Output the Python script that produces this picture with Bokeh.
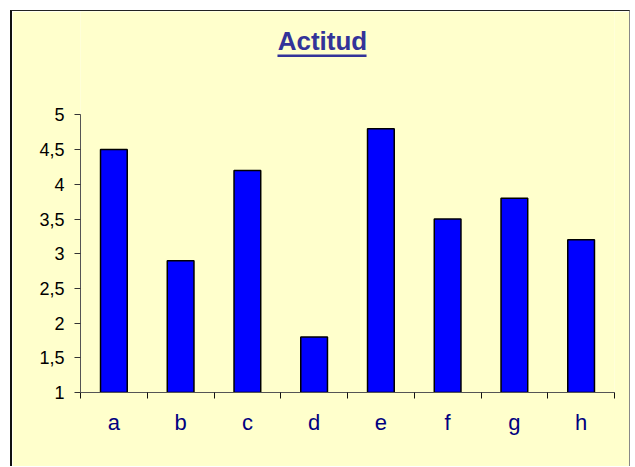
from bokeh.plotting import figure
from bokeh.models import (Range1d, FixedTicker, LinearAxis, Label, BoxAnnotation)
from bokeh.embed import file_html
from bokeh.resources import INLINE

categories = ["a", "b", "c", "d", "e", "f", "g", "h"]
values = [4.5, 2.9, 4.2, 1.8, 4.8, 3.5, 3.8, 3.2]
y_ticks = [1, 1.5, 2, 2.5, 3, 3.5, 4, 4.5, 5]
y_tick_labels = ["1", "1,5", "2", "2,5", "3", "3,5", "4", "4,5", "5"]
title_text = "Actitud"

BG = "#FFFFCC"
W, H = 620, 456
Y_MIN, Y_MAX = 1, 5

# the frame extends above the value axis to hold the title
p = figure(width=W, height=H, output_backend="svg", toolbar_location=None,
           x_range=Range1d(0, len(categories)), y_range=Range1d(Y_MIN, 6.49),
           min_border_left=68, min_border_right=18, min_border_top=0,
           min_border_bottom=75, background_fill_color=BG,
           border_fill_color=BG, outline_line_color=None)
p.margin = (10, 0, 0, 10)
p.styles = {"border-top": "1px solid #222222", "border-left": "2px solid #111111",
            "border-right": "1px solid #888888"}

p.xgrid.visible = False
p.ygrid.visible = False

centers = [i + 0.5 for i in range(len(categories))]
p.vbar(x=centers, top=values, bottom=Y_MIN, width=0.4, fill_color="#0000FF",
       line_color="#000000", line_width=1.5)

# y axis
ya = p.yaxis[0]
ya.bounds = (Y_MIN, Y_MAX)
ya.ticker = FixedTicker(ticks=y_ticks, minor_ticks=[])
ya.major_label_overrides = {t: l for t, l in zip(y_ticks, y_tick_labels)}
ya.major_tick_in = 0
ya.major_tick_out = 6
ya.minor_tick_line_color = None
ya.axis_line_color = "#555555"
ya.major_tick_line_color = "#333333"
ya.major_label_text_font = "Liberation Sans"
ya.major_label_text_font_size = "18px"
ya.major_label_text_color = "#000000"
ya.major_label_standoff = 10

# x axis: ticks at category edges
edges = list(range(len(categories) + 1))
xa = p.xaxis[0]
xa.ticker = FixedTicker(ticks=edges, minor_ticks=[])
xa.major_label_overrides = {e: "" for e in edges}
xa.major_label_standoff = 0
xa.major_tick_in = 0
xa.major_tick_out = 6
xa.minor_tick_line_color = None
xa.axis_line_color = "#555555"
xa.major_tick_line_color = "#111111"

# x labels axis
la = LinearAxis(ticker=FixedTicker(ticks=centers, minor_ticks=[]))
la.major_label_overrides = {c: n for c, n in zip(centers, categories)}
la.axis_line_color = None
la.major_tick_line_color = None
la.minor_tick_line_color = None
la.major_label_text_font = "Liberation Sans"
la.major_label_text_font_size = "22px"
la.major_label_text_color = "#000080"
la.major_label_standoff = 5
p.add_layout(la, "below")

# underlined title
t = Label(x=3.625, y=6.07, text=title_text,
          text_font="Liberation Sans", text_font_style="bold",
          text_font_size="26px", text_color="#333399", text_align="center",
          text_baseline="alphabetic")
p.add_layout(t)
u = BoxAnnotation(left=2.951, right=4.285, top=5.869, bottom=5.833,
                  fill_color="#333399", fill_alpha=1, line_color=None)
p.add_layout(u)

open("out.html", "w").write(file_html(p, INLINE))
